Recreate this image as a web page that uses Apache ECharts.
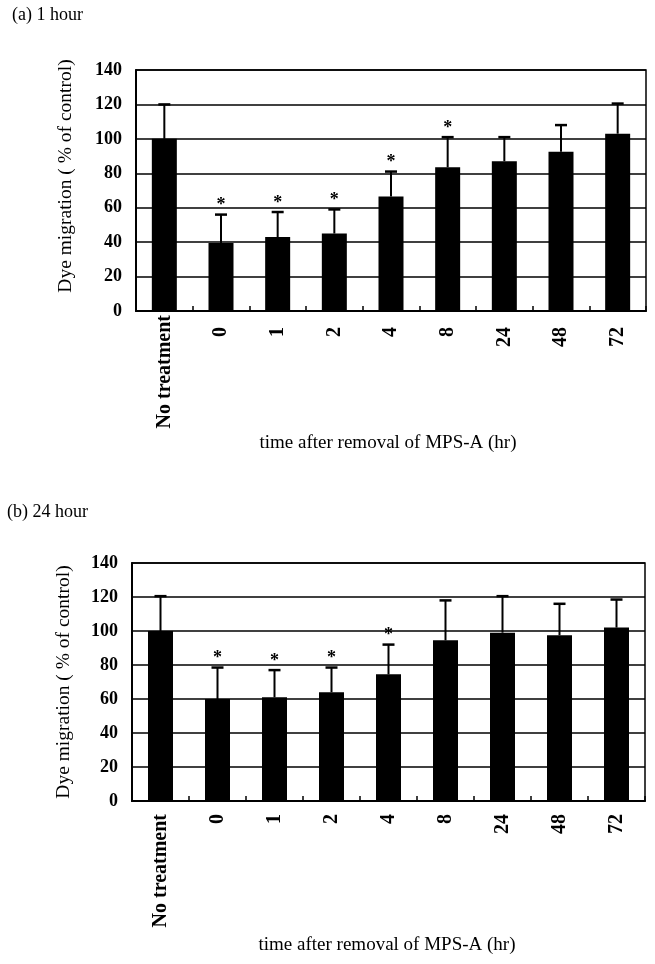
<!DOCTYPE html>
<html>
<head>
<meta charset="utf-8">
<script src="https://cdn.jsdelivr.net/npm/echarts@6/dist/echarts.min.js"></script>
<style>
html,body{margin:0;padding:0;background:#fff;}
#c{width:655px;height:964px;}
</style>
</head>
<body>
<div id="c"></div>
<script>
const categories = ['No treatment', '0', '1', '2', '4', '8', '24', '48', '72'];
const mean1h = [100, 39.5, 43, 45, 66.5, 83.5, 87, 92.5, 103];
const sd1h = [20, 16.5, 14.5, 14, 14.5, 17.5, 14, 15.5, 17.5];
const sig1h = [0, 1, 1, 1, 1, 1, 0, 0, 0];
const mean24h = [100, 60, 61, 64, 74.5, 94.5, 99, 97.5, 102];
const sd24h = [20.5, 18.5, 16, 14.5, 17.5, 23.5, 21.5, 18.5, 16.5];
const sig24h = [0, 1, 1, 1, 1, 0, 0, 0, 0];
const yMin = 0, yMax = 140, yStep = 20;
const panelTitles = ['(a) 1 hour', '(b) 24 hour'];
const yTitle = 'Dye migration ( % of control)';
const xTitle = 'time after removal of MPS-A (hr)';

const SERIF = '"Liberation Serif", "Times New Roman", serif';

function errData(mean, sd, sig) {
  return mean.map((m, i) => [i, m, sd[i], sig[i]]);
}

function errorRender(params, api) {
  const i = api.value(0), m = api.value(1), sd = api.value(2), sig = api.value(3);
  const p0 = api.coord([i, m]);
  const p1 = api.coord([i, m + sd]);
  const children = [
    {type: 'line', shape: {x1: p0[0], y1: p0[1], x2: p1[0], y2: p1[1]}, style: {stroke: '#000', lineWidth: 2}},
    {type: 'line', shape: {x1: p1[0] - 6, y1: p1[1], x2: p1[0] + 6, y2: p1[1]}, style: {stroke: '#000', lineWidth: 2.5}}
  ];
  if (sig) {
    children.push({type: 'text', x: p1[0], y: p1[1] - 9,
      style: {text: '*', fill: '#000', font: 'bold 18px ' + SERIF, align: 'center', verticalAlign: 'middle'}});
  }
  return {type: 'group', children: children};
}

const grids = [
  {left: 136, right: 9, top: 70, height: 241, show: true, borderColor: '#000', borderWidth: 1.5},
  {left: 132, right: 10, top: 563, height: 238, show: true, borderColor: '#000', borderWidth: 1.5}
];
const labelMargins = [4, 13];

function xAxisFor(g) {
  return {
    type: 'category', gridIndex: g, data: categories,
    axisLine: {lineStyle: {color: '#000', width: 2}},
    axisTick: {show: true, inside: true, length: 5, lineStyle: {color: '#000', width: 1.5}},
    axisLabel: {
      interval: 0, rotate: 90, margin: labelMargins[g], color: '#000',
      fontFamily: SERIF, fontSize: 20, fontWeight: 'bold',
      formatter: function (v) { return g === 0 && v !== categories[0] ? '{s|' + v + '}' : '{n|' + v + '}'; },
      rich: {
        s: {fontFamily: SERIF, fontSize: 20, fontWeight: 'bold', color: '#000', padding: [0, 12, 0, 0]},
        n: {fontFamily: SERIF, fontSize: 20, fontWeight: 'bold', color: '#000'}
      }
    }
  };
}
function yAxisFor(g) {
  return {
    type: 'value', gridIndex: g, min: yMin, max: yMax, interval: yStep,
    axisLine: {show: true, lineStyle: {color: '#000', width: 2}},
    axisTick: {show: false},
    splitLine: {show: true, lineStyle: {color: '#000', width: 1.5}},
    axisLabel: {color: '#000', fontFamily: SERIF, fontSize: 18, fontWeight: 'bold', margin: 14}
  };
}

const chart = echarts.init(document.getElementById('c'), null, {renderer: 'canvas'});
chart.setOption({
  backgroundColor: '#fff',
  animation: false,
  grid: grids,
  xAxis: [xAxisFor(0), xAxisFor(1)],
  yAxis: [yAxisFor(0), yAxisFor(1)],
  series: [
    {type: 'bar', xAxisIndex: 0, yAxisIndex: 0, data: mean1h, barWidth: 25, itemStyle: {color: '#000'}},
    {type: 'custom', xAxisIndex: 0, yAxisIndex: 0, data: errData(mean1h, sd1h, sig1h), encode: {x: 0, y: 1}, renderItem: errorRender, z: 5},
    {type: 'bar', xAxisIndex: 1, yAxisIndex: 1, data: mean24h, barWidth: 25, itemStyle: {color: '#000'}},
    {type: 'custom', xAxisIndex: 1, yAxisIndex: 1, data: errData(mean24h, sd24h, sig24h), encode: {x: 0, y: 1}, renderItem: errorRender, z: 5}
  ],
  graphic: [
    {type: 'text', left: 12, top: 6, style: {text: panelTitles[0], font: '18px ' + SERIF, fill: '#000'}},
    {type: 'text', left: 7, top: 503, style: {text: panelTitles[1], font: '18px ' + SERIF, fill: '#000'}},
    {type: 'text', x: 66, y: 176, rotation: Math.PI / 2, style: {text: yTitle, font: '19.5px ' + SERIF, fill: '#000', align: 'center', verticalAlign: 'middle'}},
    {type: 'text', x: 64, y: 682, rotation: Math.PI / 2, style: {text: yTitle, font: '19.5px ' + SERIF, fill: '#000', align: 'center', verticalAlign: 'middle'}},
    {type: 'text', x: 388, y: 443, style: {text: xTitle, font: '19px ' + SERIF, fill: '#000', align: 'center', verticalAlign: 'middle'}},
    {type: 'text', x: 387, y: 945, style: {text: xTitle, font: '19px ' + SERIF, fill: '#000', align: 'center', verticalAlign: 'middle'}}
  ]
});
</script>
</body>
</html>
